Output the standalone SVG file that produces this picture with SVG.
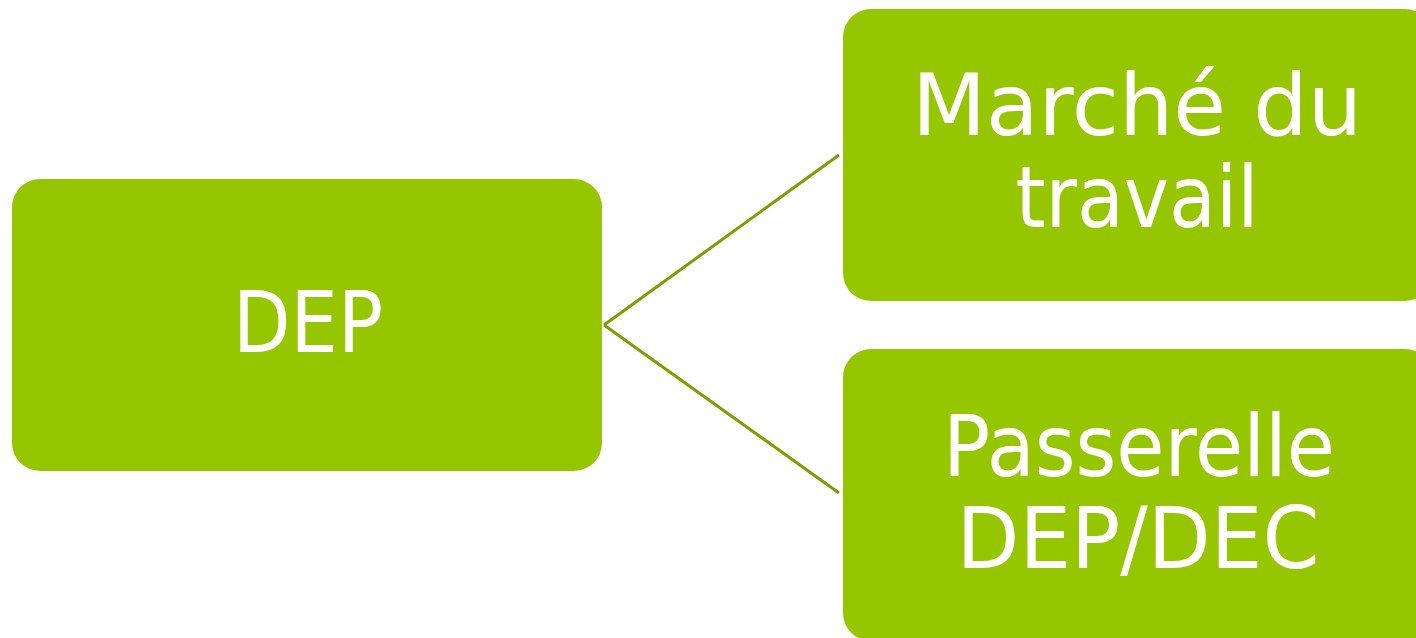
<svg xmlns="http://www.w3.org/2000/svg" width="1416" height="638" viewBox="0 0 1416 638">
<style>
.box{fill:#95c600}
.lbl{fill:#ffffff;font-family:"DejaVu Sans","Liberation Sans",sans-serif;font-size:86px;text-anchor:middle}
.conn{stroke:#7a9f00;stroke-width:3;fill:none}
</style>
<rect width="1416" height="638" fill="#ffffff"/>
<g id="connectors">
<line class="conn" x1="604" y1="325" x2="839" y2="155"/>
<line class="conn" x1="604" y1="325" x2="839" y2="493"/>
</g>
<g id="node-dep">
<rect class="box" x="12" y="179" width="590" height="292" rx="28" ry="28"/>
<text class="lbl" x="308" y="352" textLength="150" lengthAdjust="spacingAndGlyphs">DEP</text>
</g>
<g id="node-marche">
<rect class="box" x="843" y="9" width="590" height="292" rx="28" ry="28"/>
<text class="lbl" x="1137" y="135" textLength="450" lengthAdjust="spacingAndGlyphs">Marché du</text>
<text class="lbl" x="1137" y="227" textLength="243" lengthAdjust="spacingAndGlyphs">travail</text>
</g>
<g id="node-passerelle">
<rect class="box" x="843" y="349" width="590" height="292" rx="28" ry="28"/>
<text class="lbl" x="1139" y="476" textLength="392" lengthAdjust="spacingAndGlyphs">Passerelle</text>
<text class="lbl" x="1138" y="568" textLength="363" lengthAdjust="spacingAndGlyphs">DEP/DEC</text>
</g>
</svg>
